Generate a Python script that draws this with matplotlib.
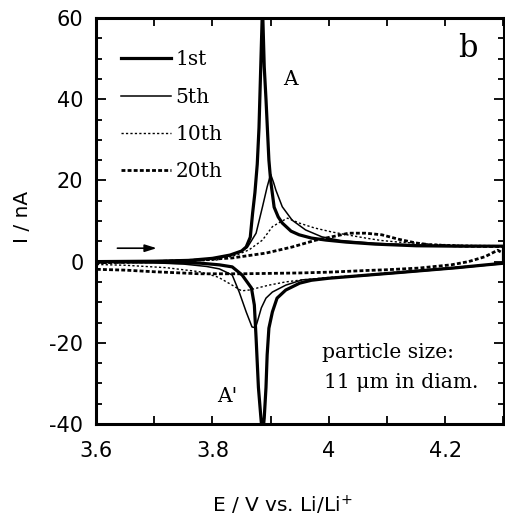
import matplotlib
matplotlib.use("Agg")
import matplotlib.pyplot as plt
from matplotlib.ticker import MultipleLocator, FuncFormatter
import numpy as np

# ---- data (E in V, I in nA) ----
# 1st cycle
e1_ox = [3.60, 3.70, 3.76, 3.80, 3.83, 3.85, 3.858, 3.865, 3.869, 3.873, 3.877, 3.880, 3.883, 3.886,
         3.889, 3.892, 3.897, 3.900, 3.906, 3.913, 3.920, 3.935, 3.949, 3.970, 3.995, 4.03, 4.08, 4.15, 4.22, 4.30]
i1_ox = [0.0, 0.1, 0.3, 0.8, 1.6, 2.6, 3.6, 6.0, 11.9, 17.0, 24.0, 33.0, 48.0, 63.0,
         48.0, 40.0, 25.0, 20.0, 13.4, 11.0, 9.5, 7.5, 6.6, 5.8, 5.3, 4.8, 4.3, 3.9, 3.8, 3.8]
e1_red = [4.30, 4.27, 4.22, 4.17, 4.12, 4.06, 4.00, 3.97, 3.95, 3.926, 3.911, 3.903, 3.897, 3.894, 3.892,
          3.889, 3.886, 3.883, 3.879, 3.875, 3.872, 3.867, 3.851, 3.834, 3.812, 3.78, 3.70, 3.60]
i1_red = [-0.4, -0.8, -1.5, -2.1, -2.7, -3.4, -4.1, -4.6, -5.3, -7.0, -9.0, -12.4, -16.4, -23.0, -31.0,
          -38.5, -43.0, -38.0, -31.0, -18.8, -10.7, -6.5, -3.3, -1.3, -0.8, -0.4, -0.1, 0.0]

# 5th cycle
e5_ox = [3.60, 3.70, 3.76, 3.80, 3.83, 3.85, 3.86, 3.875, 3.886, 3.894, 3.900, 3.905, 3.909, 3.920,
         3.937, 3.960, 3.988, 4.02, 4.08, 4.15, 4.22, 4.30]
i5_ox = [0.0, 0.1, 0.3, 0.8, 1.6, 2.6, 3.5, 7.0, 13.5, 18.4, 21.5, 19.5, 17.6, 13.5,
         10.2, 7.8, 6.1, 5.2, 4.5, 4.1, 3.9, 3.8]
e5_red = [4.30, 4.27, 4.22, 4.17, 4.12, 4.06, 4.00, 3.954, 3.926, 3.903, 3.892, 3.884, 3.877, 3.874,
          3.868, 3.858, 3.846, 3.834, 3.812, 3.79, 3.75, 3.70, 3.60]
i5_red = [-0.5, -0.9, -1.6, -2.2, -2.8, -3.5, -4.0, -4.5, -5.8, -7.5, -9.0, -11.4, -14.9, -16.3,
          -16.1, -12.4, -7.5, -3.3, -1.8, -1.2, -0.6, -0.3, -0.1]

# 10th cycle
e10_ox = [3.60, 3.70, 3.76, 3.807, 3.841, 3.863, 3.886, 3.903, 3.917, 3.929, 3.949, 3.975, 4.005,
          4.035, 4.063, 4.09, 4.12, 4.176, 4.234, 4.30]
i10_ox = [-0.4, -0.2, 0.1, 0.4, 1.6, 2.9, 5.3, 8.6, 9.8, 10.7, 9.5, 8.3, 7.3,
          6.5, 5.8, 5.2, 4.8, 4.3, 4.0, 3.9]
e10_red = [4.30, 4.25, 4.20, 4.15, 4.10, 4.05, 4.00, 3.954, 3.926, 3.897, 3.863, 3.85, 3.834,
           3.812, 3.807, 3.778, 3.721, 3.65, 3.60]
i10_red = [-0.5, -1.0, -1.6, -2.2, -2.8, -3.4, -3.9, -4.5, -5.0, -5.8, -7.0, -7.2, -5.8,
           -4.0, -3.7, -2.5, -1.5, -0.9, -0.7]

# 20th cycle
e20_ox = [3.60, 3.70, 3.778, 3.834, 3.892, 3.937, 3.978, 4.005, 4.034, 4.063, 4.091, 4.12, 4.149,
          4.176, 4.234, 4.30]
i20_ox = [-0.3, 0.0, 0.4, 0.9, 2.1, 3.6, 5.3, 6.1, 7.0, 7.0, 6.6, 5.5, 4.6,
          4.1, 3.8, 3.7]
e20_red = [4.30, 4.290, 4.268, 4.240, 4.210, 4.154, 4.10, 4.063, 4.00, 3.949, 3.85, 3.778, 3.70,
           3.65, 3.60]
i20_red = [2.0, 2.8, 1.2, 0.0, -0.8, -1.6, -2.0, -2.2, -2.6, -2.8, -3.0, -3.0, -2.5,
           -2.1, -1.9]

labels = ["1st", "5th", "10th", "20th"]

plt.rcParams['font.family'] = ['DejaVu Sans']

fig = plt.figure(figsize=(5.05, 5.16), dpi=100)
ax = fig.add_axes([96/505, 1-424/516, 407.5/505, 406/516])

def loop(e_ox, i_ox, e_red, i_red):
    return np.concatenate([e_ox, e_red]), np.concatenate([i_ox, i_red])

x, y = loop(e1_ox, i1_ox, e1_red, i1_red)
ax.plot(x, y, color='black', lw=2.3, label=labels[0], solid_joinstyle='round')
x, y = loop(e5_ox, i5_ox, e5_red, i5_red)
ax.plot(x, y, color='black', lw=1.1, label=labels[1])
x, y = loop(e10_ox, i10_ox, e10_red, i10_red)
ax.plot(x, y, color='black', lw=1.0, linestyle=(0, (1.6, 1.6)), label=labels[2])
x, y = loop(e20_ox, i20_ox, e20_red, i20_red)
ax.plot(x, y, color='black', lw=2.0, linestyle=(0, (1.4, 0.8)), label=labels[3])

ax.set_xlim(3.6, 4.3)
ax.set_ylim(-40, 60)

ax.xaxis.set_major_locator(MultipleLocator(0.2))
ax.xaxis.set_minor_locator(MultipleLocator(0.1))
ax.yaxis.set_major_locator(MultipleLocator(20))
ax.yaxis.set_minor_locator(MultipleLocator(5))
ax.xaxis.set_major_formatter(FuncFormatter(lambda v, p: f"{v:g}"))
ax.yaxis.set_major_formatter(FuncFormatter(lambda v, p: f"{v:g}"))

ax.tick_params(which='both', direction='in', top=True, right=True, width=1.3)
ax.tick_params(axis='x', which='both', length=5.5, labelsize=15, pad=12)
ax.tick_params(axis='y', which='major', length=7, labelsize=15, pad=9)
ax.tick_params(axis='y', which='minor', length=4.5)
for s in ax.spines.values():
    s.set_linewidth(2.2)

ax.set_xlabel("E / V vs. Li/Li$^{+}$", fontsize=14.5)
ax.set_ylabel("I / nA", fontsize=14.5)
ax.xaxis.set_label_coords((283-96)/409, (424-505)/406)
ax.xaxis.label.set_va('center')
ax.yaxis.set_label_coords((22-96)/409, (424-217)/406)
ax.yaxis.label.set_va('center')

serif = ['DejaVu Serif']
leg = ax.legend(loc='upper left', bbox_to_anchor=(0.062, 0.92), frameon=False,
                handlelength=2.45, handletextpad=0.25, labelspacing=0.9,
                borderpad=0.0, borderaxespad=0.0,
                prop={'family': serif, 'size': 14.5})

ax.text(3.934, 44.9, "A", family=serif, fontsize=14.5, ha='center', va='center')
ax.text(3.826, -33.3, "A'", family=serif, fontsize=14.5, ha='center', va='center')
ax.text(4.239, 52.6, "b", family=serif, fontsize=22, ha='center', va='center')
ax.text(3.988, -23.7, "particle size:", family=serif, fontsize=14.6, ha='left', va='baseline')
ax.text(3.991, -31.1, "11 \u03bcm in diam.", family=serif, fontsize=14.6, ha='left', va='baseline')

ax.annotate("", xy=(3.709, 3.3), xytext=(3.632, 3.3),
            arrowprops=dict(arrowstyle='-|>,head_length=0.7,head_width=0.22', color='black', lw=1.2))

fig.savefig("out.png", dpi=100)
